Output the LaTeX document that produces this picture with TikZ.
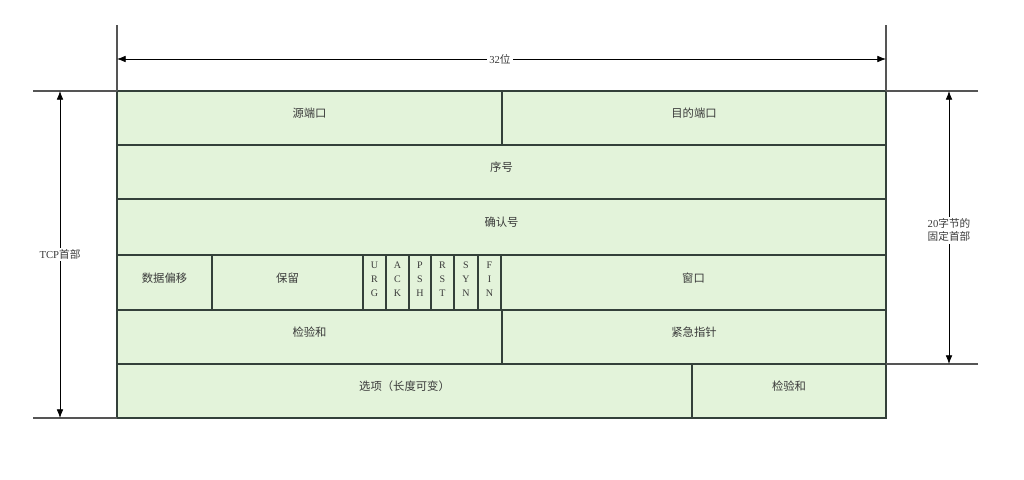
\documentclass[tikz,border=0pt]{standalone}
\usepackage{fontspec}
\setmainfont{Liberation Serif}
\newfontfamily\cjk{Noto Sans CJK SC}
\usetikzlibrary{arrows.meta,fit}
\definecolor{fillg}{HTML}{E3F3DA}
\definecolor{edgec}{HTML}{34403A}
\definecolor{txtc}{HTML}{3A3A3A}
\definecolor{extc}{HTML}{555555}
\begin{document}
\begin{tikzpicture}[x=0.75pt,y=-0.75pt,
  field/.style={draw=edgec, line width=1.4pt, fill=fillg, inner sep=0pt, outer sep=0pt,
    font=\cjk\fontsize{8.5}{10}\selectfont, text=txtc},
  flagbox/.style={field, font=\fontsize{7.5}{10.5}\selectfont, align=center},
  extline/.style={draw=extc, line width=1.3pt},
  dimline/.style={draw=black, line width=0.6pt, {Latex[length=6.5pt,width=5pt]}-{Latex[length=6.5pt,width=5pt]}},
  dimlabel/.style={fill=white, inner sep=1.5pt, text=txtc, font=\fontsize{8}{10}\selectfont, align=center}]
\useasboundingbox (0,0) rectangle (1024,479);
% rows
\node[field, fit={(117,91)(502,145)}] (src) {源端口};
\node[field, fit={(502,91)(886,145)}] (dst) {目的端口};
\node[field, fit={(117,145)(886,199)}] (seq) {序号};
\node[field, fit={(117,199)(886,255)}] (ack) {确认号};
\node[field, fit={(117,255)(212,310)}] (off) {数据偏移};
\node[field, fit={(212,255)(363,310)}] (res) {保留};
\node[flagbox, fit={(363,255)(386,310)}] (urg) {U\\R\\G};
\node[flagbox, fit={(386,255)(409,310)}] (fack) {A\\C\\K};
\node[flagbox, fit={(409,255)(431,310)}] (psh) {P\\S\\H};
\node[flagbox, fit={(431,255)(454,310)}] (rst) {R\\S\\T};
\node[flagbox, fit={(454,255)(478,310)}] (syn) {S\\Y\\N};
\node[flagbox, fit={(478,255)(501,310)}] (fin) {F\\I\\N};
\node[field, fit={(501,255)(886,310)}] (win) {窗口};
\node[field, fit={(117,310)(502,364)}] (chk) {检验和};
\node[field, fit={(502,310)(886,364)}] (urgp) {紧急指针};
\node[field, fit={(117,364)(692,418)}] (opt) {选项（长度可变）};
\node[field, fit={(692,364)(886,418)}] (pad) {检验和};
% extension lines
\coordinate (tl) at (117,25);
\coordinate (tr) at (886,25);
\coordinate (lt) at (33,91);
\coordinate (lb) at (33,418);
\coordinate (rt) at (978,91);
\coordinate (rb) at (978,364);
\draw[extline] (tl) -- (src.north west);
\draw[extline] (tr) -- (dst.north east);
\draw[extline] (lt) -- (src.north west);
\draw[extline] (lb) -- (opt.south west);
\draw[extline] (rt) -- (dst.north east);
\draw[extline] (rb) -- (urgp.south east);
% dimension arrows
\coordinate (a1) at (117,59);
\coordinate (a2) at (886,59);
\draw[dimline] (a1) -- (a2) node[dimlabel, pos=0.498] (w32) {32{\cjk 位}};
\coordinate (b1) at (60,91);
\coordinate (b2) at (60,418);
\draw[dimline] (b1) -- (b2) node[dimlabel, pos=0.5] (tcph) {TCP{\cjk 首部}};
\coordinate (c1) at (949,91);
\coordinate (c2) at (949,364);
\draw[dimline] (c1) -- (c2) node[dimlabel, pos=0.51] (fixh) {20{\cjk 字节的}\\{\cjk 固定首部}};
\end{tikzpicture}
\end{document}
